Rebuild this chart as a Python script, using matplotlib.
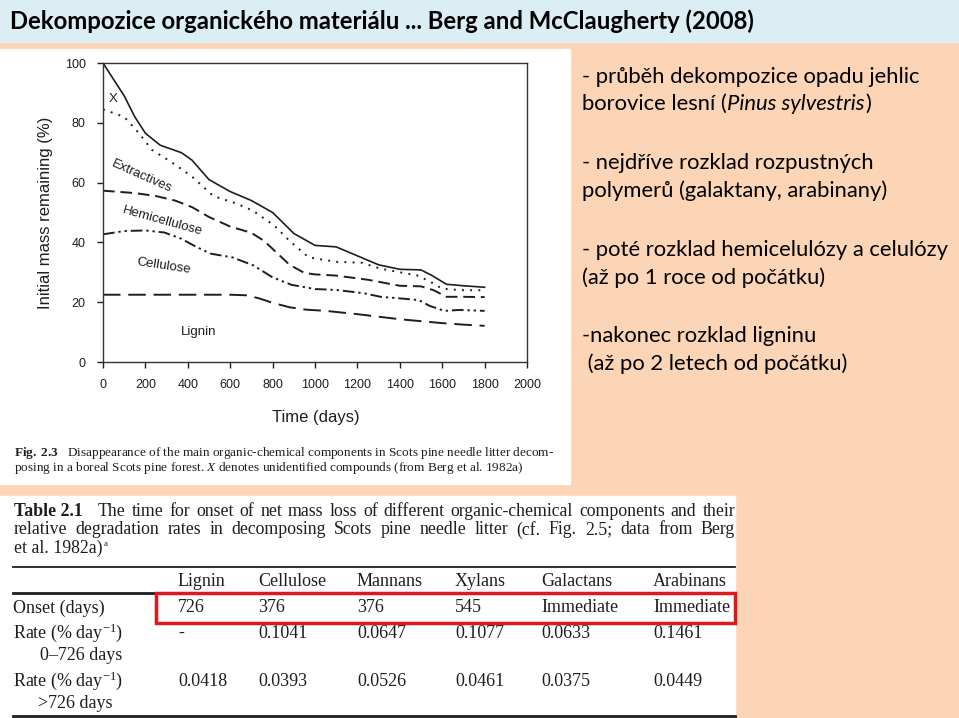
import matplotlib
matplotlib.use("Agg")
import matplotlib.pyplot as plt
from matplotlib.patches import Rectangle
from matplotlib.lines import Line2D

plt.rcParams['mathtext.fontset'] = 'custom'
plt.rcParams['mathtext.rm'] = 'Liberation Serif'
plt.rcParams['mathtext.it'] = 'Liberation Serif:italic'
plt.rcParams['mathtext.bf'] = 'Liberation Serif:bold'

W, H = 959, 718
PEACH = '#fbd5b6'
BLUE = '#daeef3'
INK = '#1e1e1e'

# --- curves (days, % of initial mass) ---
days_x = [0, 100, 150, 200, 270, 370, 420, 500, 600, 700, 800, 900, 1000,
          1100, 1200, 1300, 1400, 1500, 1550, 1620, 1700, 1800]
mass_x = [100, 89, 82, 76.5, 72.5, 70, 67.5, 61, 57, 54, 50, 43, 39,
          38.5, 35.5, 32.5, 31, 30.8, 29, 26, 25.5, 25]

days_ext = [0, 100, 170, 230, 330, 420, 520, 630, 710, 810, 880, 970, 1100,
            1220, 1310, 1400, 1480, 1540, 1600, 1700, 1800]
mass_ext = [84.5, 82, 76.5, 71, 66.5, 62, 55.5, 53, 50.5, 45.5, 40.5, 35, 33.5,
            33.2, 31.2, 30, 29, 27, 24.5, 24, 24]

days_hem = [0, 150, 250, 340, 420, 500, 600, 700, 760, 820, 880, 950, 1000,
            1100, 1250, 1400, 1500, 1560, 1620, 1700, 1800]
mass_hem = [57.3, 56.5, 55.5, 54, 51.8, 48.5, 45.3, 43.2, 40.5, 36.5, 32.5, 29.8, 29.3,
            28.9, 27.5, 25.5, 25.3, 24, 21.8, 21.8, 21.7]

days_cel = [0, 100, 200, 290, 370, 440, 510, 610, 710, 800, 890, 1000, 1100,
            1230, 1310, 1430, 1490, 1540, 1610, 1680, 1800]
mass_cel = [42.7, 43.8, 44, 43.3, 41.2, 38.5, 36.2, 35, 32.3, 28.3, 25.8, 24.4, 24.1,
            23, 21.8, 21.1, 20.7, 18.8, 17.1, 17.4, 17.1]

days_lig = [0, 200, 400, 600, 680, 740, 800, 880, 960, 1050, 1200, 1400, 1600, 1700, 1800]
mass_lig = [22.5, 22.5, 22.5, 22.5, 22.3, 21.2, 19.8, 18.3, 17.5, 17.1, 16, 14.3, 13, 12.5, 12.1]

x_ticks = list(range(0, 2001, 200))
y_ticks = list(range(0, 101, 20))

# --- table 2.1 ---
table_cols = ["Lignin", "Cellulose", "Mannans", "Xylans", "Galactans", "Arabinans"]
onset = ["726", "376", "376", "545", "Immediate", "Immediate"]
rate_early = ["-", "0.1041", "0.0647", "0.1077", "0.0633", "0.1461"]
rate_late = ["0.0418", "0.0393", "0.0526", "0.0461", "0.0375", "0.0449"]

notes = [
    "- průběh dekompozice opadu jehlic",
    None,  # borovice lesní (Pinus sylvestris)
    "- nejdříve rozklad rozpustných",
    "polymerů (galaktany, arabinany)",
    "- poté rozklad hemicelulózy a celulózy",
    "(až po 1 roce od počátku)",
    "-nakonec rozklad ligninu",
    " (až po 2 letech od počátku)",
]


def fx(x):
    return x / W


def fy(y):
    return 1 - y / H


fig = plt.figure(figsize=(W / 100, H / 100), dpi=100, facecolor=PEACH)
rend = fig.canvas.get_renderer()

def box(x0, y0, x1, y1, **kw):
    fig.patches.append(Rectangle((fx(x0), fy(y1)), (x1 - x0) / W, (y1 - y0) / H,
                                 transform=fig.transFigure, **kw))

def hline(x0, x1, y, lw):
    fig.lines.append(Line2D([fx(x0), fx(x1)], [fy(y), fy(y)], transform=fig.transFigure,
                            color=INK, lw=lw))

def justify(s, x0, x1, y, **kw):
    # spread the words of s so the line runs from x0 to x1, like the printed book
    ts = [fig.text(fx(x0), fy(y), w, **kw) for w in s.split(' ')]
    widths = [t.get_window_extent(rend).width for t in ts]
    gap = (x1 - x0 - sum(widths)) / (len(ts) - 1)
    x = x0
    for t, w in zip(ts, widths):
        t.set_x(fx(x))
        x += w + gap

box(0, 0, W, 42, color=BLUE, zorder=-1)
box(0, 49, 570, 484, color='white', zorder=-1)
box(0, 496, 735, 718, color='white', zorder=-1)

fig.text(fx(10), fy(21), "Dekompozice organického materiálu ... Berg and McClaugherty (2008)",
         family='Lato', weight='bold', fontsize=17.2, va='center', color='black')

# --- chart ---
ax = fig.add_axes([fx(103), fy(362), (527 - 103) / W, (362 - 63) / H])
ax.set_facecolor('white')
ax.plot(days_x, mass_x, color=INK, lw=1.2)
ax.plot(days_ext, mass_ext, color=INK, lw=1.4, ls=(0, (1, 3.2)))
ax.plot(days_hem, mass_hem, color=INK, lw=1.4, ls=(0, (6, 3)))
ax.plot(days_cel, mass_cel, color=INK, lw=1.4, ls=(0, (6, 2, 1.2, 2, 1.2, 2)))
ax.plot(days_lig, mass_lig, color=INK, lw=1.4, ls=(0, (9, 4)))
ax.set_xlim(0, 2000)
ax.set_ylim(0, 100)
ax.set_xticks(x_ticks)
ax.set_yticks(y_ticks)
ax.tick_params(direction='out', length=4.5, width=1, colors=INK, labelsize=9, pad=8)
for lab in ax.get_xticklabels() + ax.get_yticklabels():
    lab.set_family('Liberation Sans')
for s in ax.spines.values():
    s.set_color('#333333')
    s.set_linewidth(1.0)
ax.set_xlabel("Time (days)", family='Liberation Sans', fontsize=12, color=INK)
ax.set_ylabel("Initial mass remaining (%)", family='Liberation Sans', fontsize=12, color=INK)
ax.xaxis.set_label_coords(0.502, -0.16)
ax.yaxis.set_label_coords(-0.118, 0.5)

lab_kw = dict(family='Liberation Sans', fontsize=9.5, color=INK, ha='center', va='center')
ax.text(49, 88, "X", **lab_kw)
ax.text(185, 62.2, "Extractives", rotation=-24, **lab_kw)
ax.text(280, 47.2, "Hemicellulose", rotation=-15.5, **lab_kw)
ax.text(285, 32.1, "Cellulose", rotation=-8.5, **lab_kw)
ax.text(453, 10.1, "Lignin", **lab_kw)

cap_kw = dict(family='Liberation Serif', fontsize=9.5, color=INK, va='center')
fig.text(fx(14), fy(453), r"$\mathbf{Fig.\ 2.3}$   Disappearance of the main organic-chemical "
         "components in Scots pine needle litter decom-", **cap_kw)
fig.text(fx(14), fy(468), r"posing in a boreal Scots pine forest. $\mathit{X}$ denotes "
         "unidentified compounds (from Berg et al. 1982a)", **cap_kw)

# --- right hand notes ---
note_kw = dict(family='Lato', fontsize=15.8, color='black', va='center')
note_y = [77, 104, 163, 191, 250, 278, 336, 364]
for s, y in zip(notes, note_y):
    if s is None:
        t = fig.text(fx(582), fy(y), "borovice lesní (", **note_kw)
        x = 582 + t.get_window_extent(rend).width
        t = fig.text(fx(x), fy(y), "Pinus sylvestris", style='italic', **note_kw)
        x += t.get_window_extent(rend).width + 1
        fig.text(fx(x), fy(y), ")", **note_kw)
    else:
        fig.text(fx(582), fy(y), s, **note_kw)

# --- table ---
head_kw = dict(family='Liberation Serif', fontsize=12.8, color=INK, va='center')
fig.text(fx(14), fy(511), "Table 2.1", weight='bold', **head_kw)
justify("The time for onset of net mass loss of different organic-chemical components and their",
        98, 735, 511, **head_kw)
justify("relative degradation rates in decomposing Scots pine needle litter (cf. Fig. 2.5; "
        "data from Berg", 14, 735, 530, **head_kw)
t = fig.text(fx(14), fy(548), "et al. 1982a)", **head_kw)
fig.text(fx(14 + t.get_window_extent(rend).width + 1), fy(544), "a",
         family='Liberation Serif', fontsize=6.5, color=INK, va='center')

hline(13, 735, 567, 1.3)
hline(13, 735, 593, 2.0)
hline(13, 735, 716, 2.0)

tab_kw = dict(family='Liberation Serif', fontsize=13, color=INK, va='center')
col_x = [178, 258, 357, 455, 541, 653]
for c, x in zip(table_cols, col_x):
    fig.text(fx(x), fy(581), c, **tab_kw)
for vals, y in [(onset, 608), (rate_early, 633), (rate_late, 681)]:
    for v, x in zip(vals, col_x):
        fig.text(fx(x), fy(y), v, **tab_kw)
fig.text(fx(13), fy(608), "Onset (days)", **tab_kw)
fig.text(fx(13), fy(633), r"Rate (% day$^{-1}$)", **tab_kw)
fig.text(fx(40), fy(655), "0–726 days", **tab_kw)
fig.text(fx(13), fy(681), r"Rate (% day$^{-1}$)", **tab_kw)
fig.text(fx(38), fy(703), ">726 days", **tab_kw)

box(156, 593, 735, 623, fill=False, edgecolor='#e0181c', lw=2.5, zorder=5)

fig.savefig("out.png", dpi=100, facecolor=PEACH)
